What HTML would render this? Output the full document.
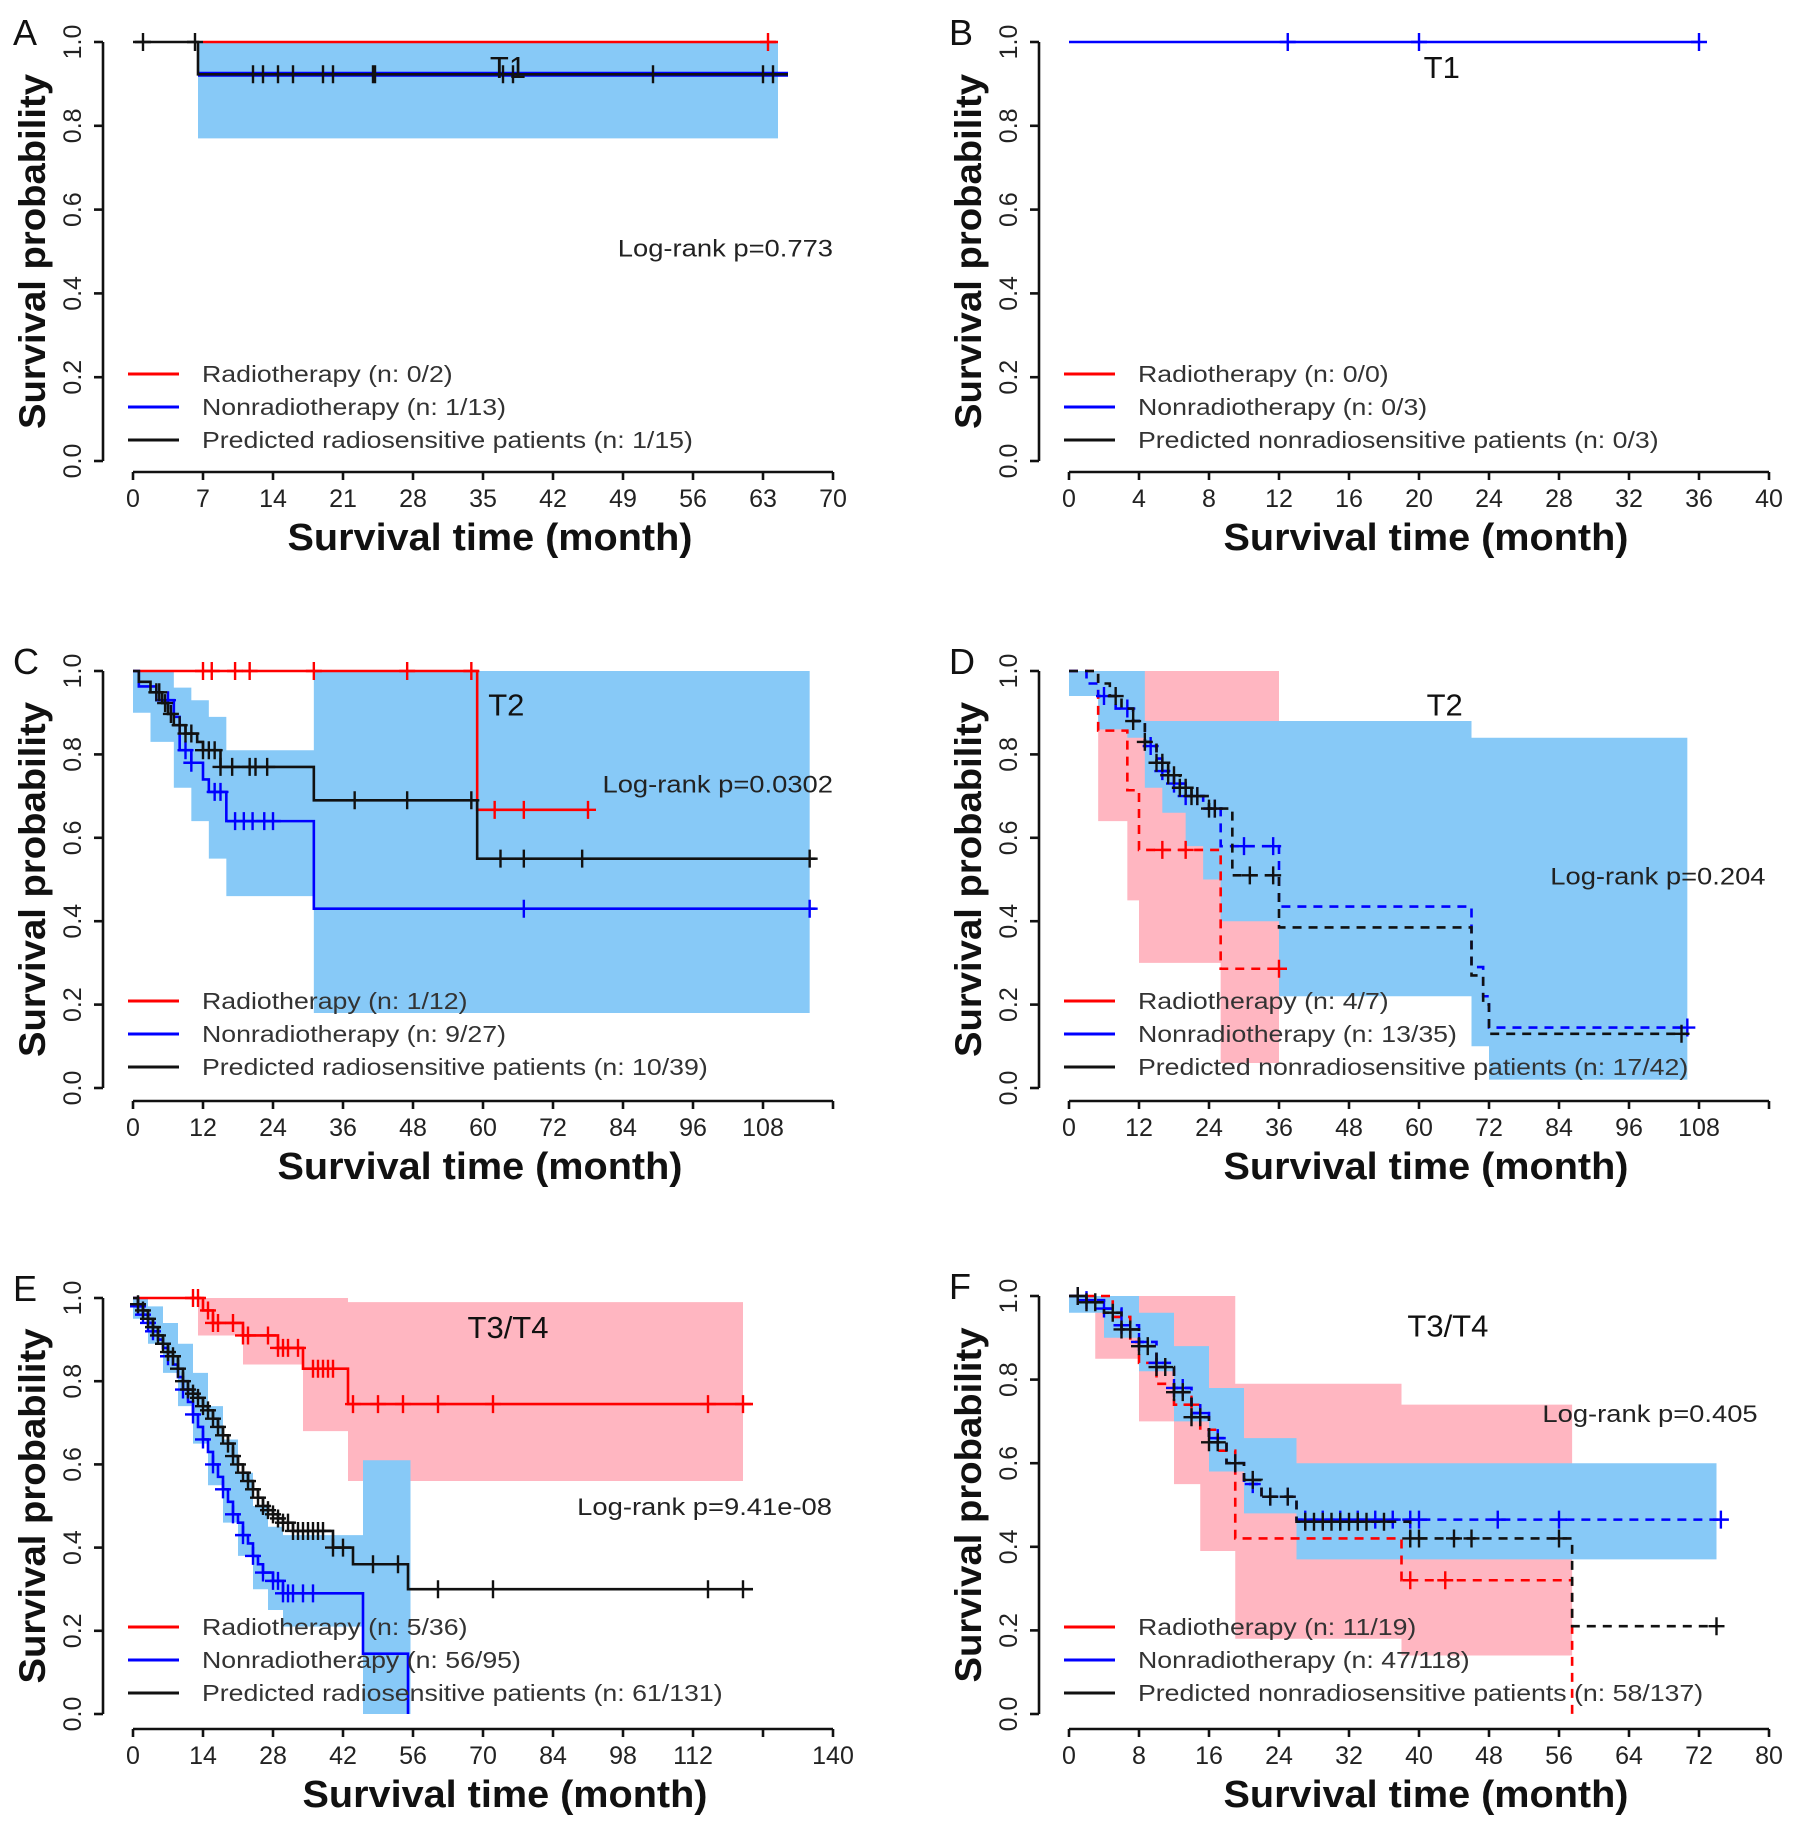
<!DOCTYPE html>
<html><head><meta charset="utf-8"><style>
html,body{margin:0;padding:0;background:#fff;}
svg{display:block;font-family:"Liberation Sans",Arial,sans-serif;}
</style></head><body>
<svg id="fig" width="1795" height="1830" viewBox="0 0 1795 1830" xmlns="http://www.w3.org/2000/svg"></svg>
<script>
// ---------- Panel A data ----------
const A_red_t=[7], A_red_s=[1], A_red_c=[63.5];
const A_blue_t=[6.5], A_blue_s=[0.923], A_blue_c=[];
const A_black_t=[0,6.5], A_black_s=[1,0.923], A_black_c=[1,6.2,12,13,14.5,16,19,20,24,24.2,37,38,52,63,64];
const A_bandB_t=[6.5], A_bandB_lo=[0.77], A_bandB_hi=[1];
// ---------- Panel B data ----------
const B_blue_t=[0], B_blue_s=[1], B_blue_c=[12.5,20,36];
// ---------- Panel C data ----------
const C_red_t=[0,59], C_red_s=[1,0.667], C_red_c=[12,13.5,17.5,20,31,47,58,62,67,78];
const C_black_t=[0,1,3,5,6,7,9,11,12,15,31,59], C_black_s=[1,.974,.949,.923,.897,.87,.85,.83,.81,.77,.69,.55];
const C_black_c=[4,4.5,5.5,6.5,8,9,10,12,13,14,15,17,20,21,23,38,47,58,63,67,77,116];
const C_blue_t=[0,1,4,7,8,10,12,13,16,31], C_blue_s=[1,.963,.93,.89,.81,.78,.74,.71,.64,.43];
const C_blue_c=[6,9,10,14,15,17.5,19,20.5,22.5,24,67,116];
const C_bandB_t=[0,3,7,10,13,16,31], C_bandB_lo=[.9,.83,.72,.64,.55,.46,.18], C_bandB_hi=[1,1,.96,.93,.89,.81,1];
// ---------- Panel D data ----------
const D_red_t=[0,5,10,12,26], D_red_s=[1,.857,.714,.571,.286], D_red_c=[16,20,36];
const D_bandR_t=[5,10,12,26], D_bandR_lo=[.64,.45,.3,.06], D_bandR_hi=[1,1,1,1];
const D_blue_t=[0,3,5,8,11,13,15,16,18,20,23,26,36,69,71,72], D_blue_s=[1,.97,.94,.91,.88,.82,.79,.76,.73,.70,.67,.58,.435,.29,.22,.145];
const D_blue_c=[6,10,14,16,18,20,22,25,30,35,106];
const D_black_t=[0,5,7,9,11,13,15,17,19,21,24,28,36,69,71,72], D_black_s=[1,.97,.94,.91,.88,.83,.78,.75,.72,.70,.67,.51,.385,.27,.20,.13];
const D_black_c=[8,11,13,15,16,17,18,19,20,21,22,24,25,31,35,105];
const D_bandB_t=[0,5,10,13,16,20,23,26,36,69,72], D_bandB_lo=[.94,.86,.84,.72,.66,.58,.5,.4,.22,.1,.02], D_bandB_hi=[1,1,1,.88,.88,.88,.88,.88,.88,.84,.84];
// ---------- Panel E data ----------
const E_red_t=[0,14,16,22,29,34,43], E_red_s=[1,.97,.94,.91,.88,.83,.745];
const E_red_c=[12,13,15,16,17,20,22,23,27,29,30,31,33,36,37,38,39,40,44,49,54,61,72,115,122];
const E_bandR_t=[13,22,34,43], E_bandR_lo=[.91,.84,.68,.56], E_bandR_hi=[1,1,1,.99];
const E_blue_t=[0,1,2,3,4,5,6,7,8,9,10,11,12,13,14,15,16,17,18,19,20,21,22,23,24,25,26,28,30,46,55];
const E_blue_s=[1,.98,.96,.94,.92,.9,.88,.86,.84,.81,.78,.75,.72,.69,.66,.63,.60,.57,.54,.51,.48,.46,.43,.41,.38,.36,.34,.32,.29,.145,0];
const E_blue_c=[1,2,3,4,7,10,12,14,16,18,20,22,24,26,28,29,30,31,32,34,36];
const E_black_t=[0,1,2,3,4,5,6,7,8,9,10,11,12,13,14,15,16,17,18,19,20,21,22,23,24,25,26,27,28,29,30,32,40,44,55];
const E_black_s=[1,.985,.97,.95,.93,.91,.89,.87,.86,.83,.80,.78,.77,.76,.74,.73,.71,.69,.67,.65,.62,.60,.58,.56,.54,.52,.50,.49,.48,.47,.46,.44,.40,.36,.30];
const E_black_c=[1,2,3,4,5,6,7,8,9,10,11,12,13,14,15,16,17,18,19,20,21,22,23,24,25,26,27,28,29,30,31,32,33,34,35,36,37,38,40,42,48,53,61,72,115,122];
const E_bandB_t=[0,3,6,9,12,15,18,21,24,27,30,46], E_bandB_lo=[.95,.89,.82,.74,.65,.55,.46,.38,.30,.25,.21,0], E_bandB_hi=[1,.98,.94,.89,.82,.74,.66,.58,.50,.45,.43,.61];
// ---------- Panel F data ----------
const F_red_t=[0,5,7,8,10,12,15,17,19,38,57.5], F_red_s=[1,.95,.89,.84,.79,.74,.68,.63,.42,.32,0], F_red_c=[14,39,43];
const F_bandR_t=[3,8,12,15,19,38], F_bandR_lo=[.85,.7,.55,.39,.18,.14], F_bandR_hi=[1,1,1,1,.79,.74];
const F_blue_t=[0,2,4,6,8,10,12,14,16,18,20,22,26], F_blue_s=[1,.99,.97,.93,.89,.84,.78,.72,.66,.6,.55,.52,.465];
const F_blue_c=[1,2,4,6,8,10,12,13,15,17,19,21,23,25,27,29,31,33,35,37,39,40,49,56,74.5];
const F_black_t=[0,2,4,6,8,10,12,14,16,18,20,22,26,39,57.5], F_black_s=[1,.985,.96,.92,.88,.83,.77,.71,.65,.6,.56,.52,.46,.42,.21];
const F_black_c=[1,2,3,5,6,7,8,9,10,11,12,13,14,15,16,17,19,21,23,25,27,28,29,30,31,32,33,34,36,39,40,44,46,56,74];
const F_bandB_t=[0,4,8,12,16,20,26], F_bandB_lo=[.96,.9,.82,.7,.58,.48,.37], F_bandB_hi=[1,1,.96,.88,.78,.66,.6];
// ---------- tick labels ----------
const yTicks=[0,0.2,0.4,0.6,0.8,1.0];
const A_xTicks=[0,7,14,21,28,35,42,49,56,63,70];
const B_xTicks=[0,4,8,12,16,20,24,28,32,36,40];
const C_xTicks=[0,12,24,36,48,60,72,84,96,108,120];
const E_xTicks=[0,14,28,42,56,70,84,98,112,126,140];
const F_xTicks=[0,8,16,24,32,40,48,56,64,72,80];

const NS="http://www.w3.org/2000/svg";
const svg=document.getElementById('fig');
const W=700;
function mk(tag,attrs,parent){const e=document.createElementNS(NS,tag);for(const k in attrs)e.setAttribute(k,attrs[k]);(parent||svg).appendChild(e);return e;}
function txt(s,attrs,parent){const e=mk('text',attrs,parent);e.textContent=s;return e;}
function stretch(e,f){try{const l=e.getComputedTextLength();if(l>0){e.setAttribute('textLength',(l*f).toFixed(1));e.setAttribute('lengthAdjust','spacingAndGlyphs');}}catch(err){}}
const RED='#ff0000',BLUE='#0000ff',BLACK='#111111',LBLUE='#87c9f7',PINK='#ffb6c1';

function panel(p){
  const g=mk('g',{});
  
  
  const X=v=>p.x0+(v/p.xmax)*W;
  const Y=v=>p.y0-v*(p.y0-p.y1);
  (p.bands||[]).forEach(b=>{
    let d='M'+X(b.t[0])+' '+Y(b.hi[0]);
    for(let i=1;i<b.t.length;i++){d+=' H'+X(b.t[i])+' V'+Y(b.hi[i]);}
    d+=' H'+X(b.end)+' V'+Y(b.lo[b.lo.length-1]);
    for(let i=b.t.length-1;i>=1;i--){d+=' H'+X(b.t[i])+' V'+Y(b.lo[i-1]);}
    d+=' H'+X(b.t[0])+' Z';
    const e=mk('path',{d:d,fill:b.color,stroke:'none'},g);
    
    
  });
  (p.curves||[]).forEach(c=>{
    let d='M'+X(c.t[0])+' '+Y(c.s[0]);
    for(let i=1;i<c.t.length;i++){d+=' H'+X(c.t[i])+' V'+Y(c.s[i]);}
    d+=' H'+X(c.end);
    const e=mk('path',{d:d,fill:'none',stroke:c.color,'stroke-width':c.w||2.6,'stroke-dasharray':c.dash?'9,7':'none'},g);
    
    
    const sv=t=>{let v=c.s[0];for(let i=0;i<c.t.length;i++){if(c.t[i]<=t)v=c.s[i];}return v;};
    c.c.forEach(t=>{
      const cx=X(t),cy=Y(sv(t));
      const m=mk('path',{d:'M'+(cx-8)+' '+cy+' H'+(cx+8)+' M'+cx+' '+(cy-9)+' V'+(cy+9),stroke:c.color,'stroke-width':2.4,fill:'none'},g);
      
      
    });
  });
  const ax=p.x0-30;
  const ya=mk('g',{},g);
  
  
  mk('line',{x1:ax,y1:Y(0),x2:ax,y2:Y(1),stroke:'#111','stroke-width':2.6},ya);
  yTicks.forEach(v=>{
    mk('line',{x1:ax-9,y1:Y(v),x2:ax,y2:Y(v),stroke:'#111','stroke-width':2.6},ya);
    const t=txt(v.toFixed(1),{x:ax-22,y:Y(v),'font-size':25,fill:'#222','text-anchor':'middle',transform:'rotate(-90 '+(ax-22)+' '+Y(v)+')'},ya);
    
    
  });
  const yt=txt('Survival probability',{x:ax-70,y:(Y(0)+Y(1))/2+12,'font-size':37,'font-weight':'bold',fill:'#111','text-anchor':'middle',textLength:355,lengthAdjust:'spacingAndGlyphs',transform:'rotate(-90 '+(ax-70)+' '+((Y(0)+Y(1))/2)+')'},g);
  
  
  const xa=mk('g',{},g);
  
  
  const ay=p.axy;
  mk('line',{x1:X(0),y1:ay,x2:X(p.xmax),y2:ay,stroke:'#111','stroke-width':2.6},xa);
  p.ticks.forEach(v=>{
    mk('line',{x1:X(v),y1:ay,x2:X(v),y2:ay+8,stroke:'#111','stroke-width':2.6},xa);
    if(p.skip&&p.skip.indexOf(v)>=0)return;
    const t=txt(String(v),{x:X(v),y:ay+35,'font-size':25,fill:'#222','text-anchor':'middle'},xa);
    
    
  });
  const xt=txt('Survival time (month)',{x:p.x0+357+(p.tdx||0),y:ay+78,'font-size':38,'font-weight':'bold',fill:'#111','text-anchor':'middle',textLength:405,lengthAdjust:'spacingAndGlyphs'},g);
  
  
  const pl=txt(p.id,{x:ax-90,y:p.y1+3,'font-size':36,fill:'#111'},g);
  
  
  const st=txt(p.title,{x:X(p.tx),y:Y(p.ty)+11,'font-size':31,fill:'#111','text-anchor':'middle'},g);
  
  
  if(p.lr){
    const lr=txt(p.lr,{x:X(p.lrx),y:Y(p.lry)+9,'font-size':24,fill:'#222','text-anchor':'end'},g);
    
    
    stretch(lr,1.14);
  }
  const lg=mk('g',{},g);
  
  
  const cols=[RED,BLUE,BLACK];
  p.legend.forEach((s,i)=>{
    const ly=p.y0-87+i*33;
    const ent=mk('g',{},lg);
    
    
    mk('line',{x1:p.x0-5,y1:ly,x2:p.x0+46,y2:ly,stroke:cols[i],'stroke-width':3},ent);
    const t=txt(s,{x:p.x0+69,y:ly+8,'font-size':23,fill:'#333'},ent);
    stretch(t,1.16);
  });
}

const L=133,R=1069;
panel({id:'A',x0:L,y1:42,y0:461,axy:472,xmax:70,ticks:A_xTicks,tdx:0,title:'T1',tx:37.5,ty:0.94,
  lr:'Log-rank p=0.773',lrx:70,lry:0.51,
  bands:[{name:'ci-band-radiosensitive',t:A_bandB_t,lo:A_bandB_lo,hi:A_bandB_hi,end:64.5,color:LBLUE}],
  curves:[{name:'radiotherapy-curve',t:A_red_t,s:A_red_s,c:A_red_c,end:64.5,color:RED},
          {name:'nonradiotherapy-curve',t:A_blue_t,s:A_blue_s,c:A_blue_c,end:65.5,color:BLUE,w:5},
          {name:'predicted-radiosensitive-curve',t:A_black_t,s:A_black_s,c:A_black_c,end:65.5,color:BLACK}],
  legend:['Radiotherapy (n: 0/2)','Nonradiotherapy (n: 1/13)','Predicted radiosensitive patients (n: 1/15)']});
panel({id:'B',x0:R,y1:42,y0:461,axy:472,xmax:40,ticks:B_xTicks,tdx:0,title:'T1',tx:21.3,ty:0.94,
  curves:[{name:'nonradiotherapy-curve',t:B_blue_t,s:B_blue_s,c:B_blue_c,end:36,color:BLUE}],
  legend:['Radiotherapy (n: 0/0)','Nonradiotherapy (n: 0/3)','Predicted nonradiosensitive patients (n: 0/3)']});
panel({id:'C',x0:L,y1:671,y0:1088,axy:1101,xmax:120,ticks:C_xTicks,skip:[120],tdx:-10,title:'T2',tx:64,ty:0.92,
  lr:'Log-rank p=0.0302',lrx:120,lry:0.73,
  bands:[{name:'ci-band-nonradiotherapy',t:C_bandB_t,lo:C_bandB_lo,hi:C_bandB_hi,end:116,color:LBLUE}],
  curves:[{name:'radiotherapy-curve',t:C_red_t,s:C_red_s,c:C_red_c,end:78,color:RED},
          {name:'nonradiotherapy-curve',t:C_blue_t,s:C_blue_s,c:C_blue_c,end:117,color:BLUE},
          {name:'predicted-radiosensitive-curve',t:C_black_t,s:C_black_s,c:C_black_c,end:117,color:BLACK}],
  legend:['Radiotherapy (n: 1/12)','Nonradiotherapy (n: 9/27)','Predicted radiosensitive patients (n: 10/39)']});
panel({id:'D',x0:R,y1:671,y0:1088,axy:1101,xmax:120,ticks:C_xTicks,skip:[120],tdx:0,title:'T2',tx:64.4,ty:0.92,
  lr:'Log-rank p=0.204',lrx:119.4,lry:0.51,
  bands:[{name:'ci-band-radiotherapy',t:D_bandR_t,lo:D_bandR_lo,hi:D_bandR_hi,end:36,color:PINK},
         {name:'ci-band-nonradiotherapy',t:D_bandB_t,lo:D_bandB_lo,hi:D_bandB_hi,end:106,color:LBLUE}],
  curves:[{name:'radiotherapy-curve',t:D_red_t,s:D_red_s,c:D_red_c,end:36,color:RED,dash:1},
          {name:'nonradiotherapy-curve',t:D_blue_t,s:D_blue_s,c:D_blue_c,end:106,color:BLUE,dash:1},
          {name:'predicted-nonradiosensitive-curve',t:D_black_t,s:D_black_s,c:D_black_c,end:106,color:BLACK,dash:1}],
  legend:['Radiotherapy (n: 4/7)','Nonradiotherapy (n: 13/35)','Predicted nonradiosensitive patients (n: 17/42)']});
panel({id:'E',x0:L,y1:1298,y0:1714,axy:1729,xmax:140,ticks:E_xTicks,skip:[126],tdx:15,title:'T3/T4',tx:75,ty:0.93,
  lr:'Log-rank p=9.41e-08',lrx:139.8,lry:0.5,
  bands:[{name:'ci-band-radiotherapy',t:E_bandR_t,lo:E_bandR_lo,hi:E_bandR_hi,end:122,color:PINK},
         {name:'ci-band-nonradiotherapy',t:E_bandB_t,lo:E_bandB_lo,hi:E_bandB_hi,end:55.5,color:LBLUE}],
  curves:[{name:'radiotherapy-curve',t:E_red_t,s:E_red_s,c:E_red_c,end:124,color:RED},
          {name:'nonradiotherapy-curve',t:E_blue_t,s:E_blue_s,c:E_blue_c,end:55,color:BLUE},
          {name:'predicted-radiosensitive-curve',t:E_black_t,s:E_black_s,c:E_black_c,end:124,color:BLACK}],
  legend:['Radiotherapy (n: 5/36)','Nonradiotherapy (n: 56/95)','Predicted radiosensitive patients (n: 61/131)']});
panel({id:'F',x0:R,y1:1296,y0:1714,axy:1729,xmax:80,ticks:F_xTicks,tdx:0,title:'T3/T4',tx:43.3,ty:0.93,
  lr:'Log-rank p=0.405',lrx:78.7,lry:0.72,
  bands:[{name:'ci-band-radiotherapy',t:F_bandR_t,lo:F_bandR_lo,hi:F_bandR_hi,end:57.5,color:PINK},
         {name:'ci-band-nonradiotherapy',t:F_bandB_t,lo:F_bandB_lo,hi:F_bandB_hi,end:74,color:LBLUE}],
  curves:[{name:'radiotherapy-curve',t:F_red_t,s:F_red_s,c:F_red_c,end:57.5,color:RED,dash:1},
          {name:'nonradiotherapy-curve',t:F_blue_t,s:F_blue_s,c:F_blue_c,end:75,color:BLUE,dash:1},
          {name:'predicted-nonradiosensitive-curve',t:F_black_t,s:F_black_s,c:F_black_c,end:74,color:BLACK,dash:1}],
  legend:['Radiotherapy (n: 11/19)','Nonradiotherapy (n: 47/118)','Predicted nonradiosensitive patients (n: 58/137)']});
</script>
</body></html>
